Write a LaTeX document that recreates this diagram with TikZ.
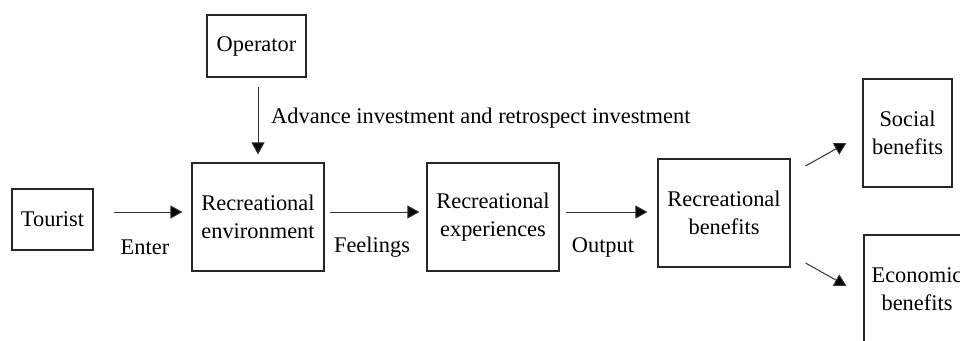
\documentclass[tikz,border=0pt]{standalone}
\usepackage{fontspec}
\setmainfont{Liberation Serif}
\usetikzlibrary{arrows.meta}
\begin{document}
\begin{tikzpicture}[x=1pt,y=1pt,
  box/.style={draw=black!85,line width=1.1pt,inner sep=0pt,align=center,
    font=\fontsize{22.4}{27.5}\selectfont},
  lbl/.style={inner sep=0pt,font=\fontsize{22.4}{27.5}\selectfont},
  arr/.style={draw=black!80,line width=1pt,-{Triangle[length=12pt,width=13pt,fill=black]}}]
\useasboundingbox (0,0) rectangle (960,-340);
\node[box,minimum width=81pt,minimum height=61pt] (tourist) at (52.5,-219.5) {Tourist};
\node[box,minimum width=99pt,minimum height=62pt] (operator) at (256.5,-46) {Operator};
\node[box,minimum width=132pt,minimum height=108pt] (env) at (258,-217) {Recreational\\environment};
\node[box,minimum width=132pt,minimum height=108pt] (exp) at (493,-217) {Recreational\\experiences};
\node[box,minimum width=132pt,minimum height=108pt] (ben) at (724,-213) {Recreational\\benefits};
\node[box,minimum width=89pt,minimum height=108pt] (social) at (907.5,-133) {Social\\benefits};
\node[box,minimum width=106pt,minimum height=108pt] (econ) at (917,-289) {Economic\\benefits};
\node[lbl] (enter) at (145,-247) {Enter};
\node[lbl] (feel) at (372,-247) {Feelings};
\node[lbl] (out) at (603,-247) {Output};
\node[lbl,anchor=west] (inv) at (271,-118) {Advance investment and retrospect investment};
\draw[arr] ([xshift=20pt,yshift=7.5pt]tourist.east) -- ([xshift=-9pt,yshift=5pt]env.west);
\draw[arr] ([xshift=5pt,yshift=5pt]env.east) -- ([xshift=-7pt,yshift=5pt]exp.west);
\draw[arr] ([xshift=6pt,yshift=5pt]exp.east) -- ([xshift=-10pt,yshift=1pt]ben.west);
\draw[arr] ([xshift=1.5pt,yshift=-9pt]operator.south) -- ([yshift=8pt]env.north);
\draw[arr] ([xshift=15pt,yshift=47pt]ben.east) -- ([xshift=-16pt,yshift=-10pt]social.west);
\draw[arr] ([xshift=15pt,yshift=-50pt]ben.east) -- ([xshift=-17pt,yshift=3pt]econ.west);
\end{tikzpicture}
\end{document}
